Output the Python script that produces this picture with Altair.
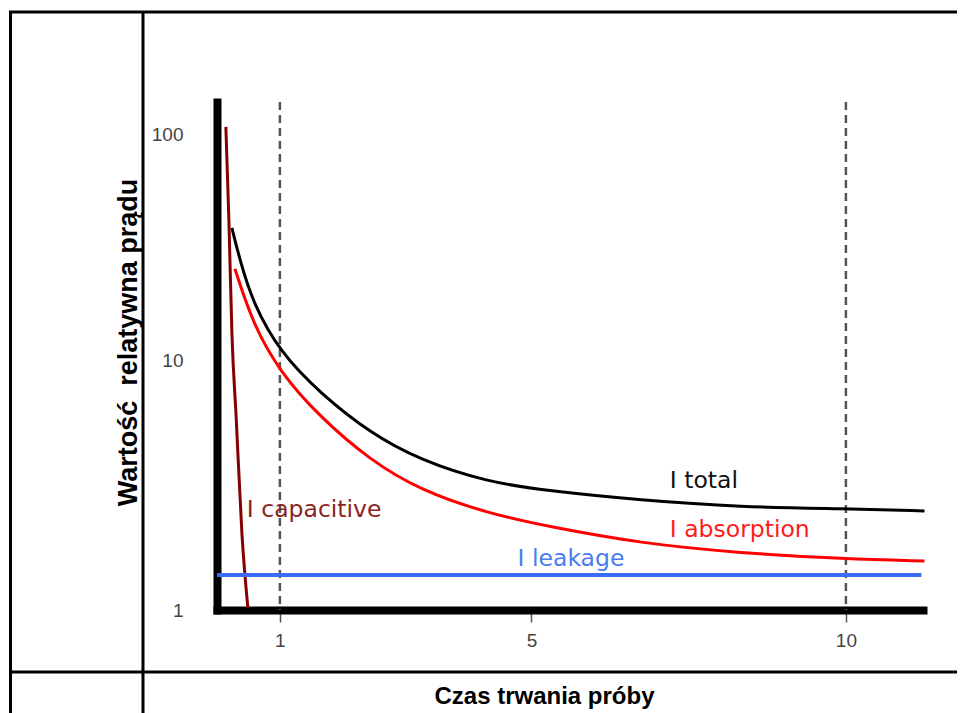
import altair as alt
import pandas as pd

# ---- values ----
total_x = [0.237, 0.364, 0.571, 1.0, 1.636, 2.431, 3.226, 4.291, 5.293, 6.724, 8.314, 9.984, 11.25]
total_y = [38.6, 27.8, 17.9, 10.85, 7.38, 5.11, 3.98, 3.25, 2.99, 2.75, 2.58, 2.54, 2.49]
absorption_x = [0.285, 0.571, 1.0, 1.636, 2.431, 3.226, 4.291, 5.293, 6.724, 8.314, 9.984, 11.25]
absorption_y = [25.4, 14.45, 8.95, 5.92, 3.98, 3.02, 2.44, 2.15, 1.85, 1.69, 1.60, 1.57]
capacitive_x = [0.141, 0.189, 0.237, 0.307, 0.396, 0.491]
capacitive_y = [108.6, 41.9, 13.2, 5.75, 2.03, 1.02]
leakage_x = [0.0, 11.2]
leakage_y = [1.38, 1.38]
marker_x = [1, 10]
x_ticks = [1, 5, 10]
y_ticks = [1, 10, 100]
label_text = ["I total", "I absorption", "I leakage", "I capacitive"]
label_x = [7.20, 7.20, 4.78, 0.475]
label_y = [3.28, 2.09, 1.60, 2.51]
x_title = "Czas trwania próby"
y_title = "Wartość\u00a0 relatywna prądu"

label_colors = ["#111111", "#ff1a1a", "#4a7cf2", "#8b2323"]

W, H = 706, 508
XMAX = 11.226

x_axis = alt.Axis(values=x_ticks, format="d", title=x_title, grid=False,
                  domainColor="black", domainWidth=8, domainCap="square",
                  tickColor="#555555", tickWidth=1.5, tickSize=12,
                  labelColor="#444444", labelFont="Liberation Sans", labelFontSize=19,
                  labelPadding=9, labelFlush=False,
                  titleFont="Liberation Sans", titleFontSize=24, titleFontWeight="bold",
                  titleColor="black", titleX=327, titleY=86,
                  titleAlign="center", titleBaseline="middle")
y_axis = alt.Axis(values=y_ticks, format="d", title=y_title, grid=False,
                  domainColor="black", domainWidth=8, domainCap="square",
                  ticks=False, tickSize=0,
                  labelColor="#444444", labelFont="Liberation Sans", labelFontSize=19,
                  labelPadding=34,
                  titleFont="Liberation Sans", titleFontSize=27, titleFontWeight="bold",
                  titleColor="black", titleX=-89, titleY=240, titleAngle=270,
                  titleAlign="center", titleBaseline="middle")

X = alt.X("x:Q", scale=alt.Scale(domain=[0, XMAX], nice=False, zero=False), axis=x_axis)
Y = alt.Y("y:Q", scale=alt.Scale(type="log", domain=[1, 10, 140], range=[H, 258, 0], nice=False),
          axis=y_axis)

one = pd.DataFrame({"k": [0]})

# table frame lines (layout decoration, pixel positions)
frame_top = alt.Chart(one).mark_rule(color="black", strokeWidth=3).encode(
    x=alt.value(-208), x2=alt.value(760), y=alt.value(-90))
frame_left = alt.Chart(one).mark_rule(color="black", strokeWidth=3).encode(
    x=alt.value(-206.5), y=alt.value(-91), y2=alt.value(640))
frame_mid = alt.Chart(one).mark_rule(color="black", strokeWidth=3).encode(
    x=alt.value(-74), y=alt.value(-91), y2=alt.value(640))
frame_bottom = alt.Chart(one).mark_rule(color="black", strokeWidth=3).encode(
    x=alt.value(-208), x2=alt.value(760), y=alt.value(570))

markers = alt.Chart(pd.DataFrame({"x": marker_x})).mark_rule(
    color="#555555", strokeWidth=2.5, strokeDash=[8, 5]).encode(
    x=X, y=alt.value(0), y2=alt.value(H))

def curve(xs, ys, color, width, interp="basis"):
    return alt.Chart(pd.DataFrame({"x": xs, "y": ys})).mark_line(
        color=color, strokeWidth=width, interpolate=interp).encode(x=X, y=Y)

cap = curve(capacitive_x, capacitive_y, "#850000", 3, "monotone")
absn = curve(absorption_x, absorption_y, "#ff0000", 3)
tot = curve(total_x, total_y, "#000000", 3)
leak = curve(leakage_x, leakage_y, "#3b6cf6", 4, "linear")

labels = alt.Chart(pd.DataFrame({"x": label_x, "y": label_y, "t": label_text})).mark_text(
    align="left", baseline="middle", font="DejaVu Sans", fontSize=23.5).encode(
    x=X, y=Y, text="t:N",
    color=alt.Color("t:N", scale=alt.Scale(domain=label_text, range=label_colors), legend=None))

chart = alt.layer(frame_top, frame_left, frame_mid, frame_bottom,
                  markers, cap, absn, tot, leak, labels).properties(
    width=W, height=H,
    padding={"left": 209, "top": 94, "right": 34, "bottom": 103},
    autosize=alt.AutoSizeParams(type="none"),
    background="white",
).configure_view(strokeWidth=0)

chart.save("out.html", embed_options={"renderer": "svg", "actions": False})
